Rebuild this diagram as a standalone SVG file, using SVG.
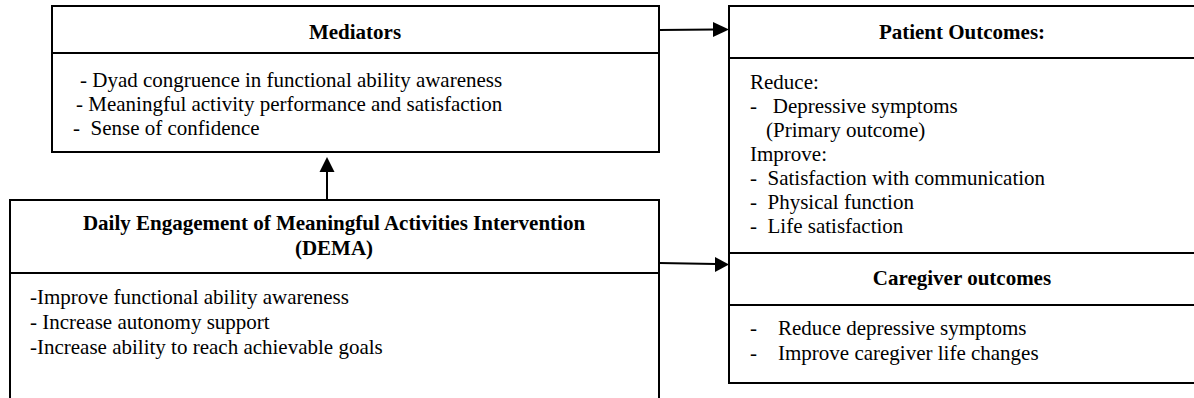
<svg xmlns="http://www.w3.org/2000/svg" width="1194" height="398" viewBox="0 0 1194 398">
<style>
.box{fill:#fff;stroke:#000;stroke-width:2}
.sep{stroke:#000;stroke-width:2}
.t{font-family:"Liberation Serif","Times New Roman",serif;font-size:21px;fill:#000;white-space:pre}
.b{font-weight:bold;text-anchor:middle}
.c{stroke:#000;stroke-width:2;fill:none}
.h{fill:#000}
</style>
<rect width="1194" height="398" fill="#fff"/>
<g id="mediators">
<rect class="box" x="52" y="6" width="607" height="146"/>
<line class="sep" x1="52" y1="53" x2="659" y2="53"/>
<text class="t b" x="355" y="39">Mediators</text>
<text class="t" x="80" y="87">- Dyad congruence in functional ability awareness</text>
<text class="t" x="76" y="111">- Meaningful activity performance and satisfaction</text>
<text class="t" x="73" y="135">-  Sense of confidence</text>
</g>
<g id="dema">
<rect class="box" x="10" y="200" width="649" height="220"/>
<line class="sep" x1="10" y1="273" x2="659" y2="273"/>
<text class="t b" x="334" y="230">Daily Engagement of Meaningful Activities Intervention</text>
<text class="t b" x="334" y="255">(DEMA)</text>
<text class="t" x="30" y="304">-Improve functional ability awareness</text>
<text class="t" x="30" y="329">- Increase autonomy support</text>
<text class="t" x="30" y="354">-Increase ability to reach achievable goals</text>
</g>
<g id="patient">
<rect class="box" x="729" y="6" width="467" height="247"/>
<line class="sep" x1="729" y1="58" x2="1196" y2="58"/>
<text class="t b" x="962" y="39">Patient Outcomes:</text>
<text class="t" x="750" y="89">Reduce:</text>
<text class="t" x="750" y="113">-   Depressive symptoms</text>
<text class="t" x="766" y="137">(Primary outcome)</text>
<text class="t" x="750" y="161">Improve:</text>
<text class="t" x="750" y="185">-  Satisfaction with communication</text>
<text class="t" x="750" y="209">-  Physical function</text>
<text class="t" x="750" y="233">-  Life satisfaction</text>
</g>
<g id="caregiver">
<rect class="box" x="729" y="253" width="467" height="130"/>
<line class="sep" x1="729" y1="305" x2="1196" y2="305"/>
<text class="t b" x="962" y="285">Caregiver outcomes</text>
<text class="t" x="750" y="335">-    Reduce depressive symptoms</text>
<text class="t" x="750" y="360">-    Improve caregiver life changes</text>
</g>
<g id="connectors">
<line class="c" x1="659" y1="30" x2="715" y2="29.5"/>
<polygon class="h" points="713,22 729,29.5 713,37"/>
<line class="c" x1="659" y1="263" x2="716" y2="264"/>
<polygon class="h" points="715,257 729,264.5 715,272"/>
<line class="c" x1="327" y1="200" x2="327" y2="170"/>
<polygon class="h" points="319.5,172 327,157 334.5,172"/>
</g>
</svg>
